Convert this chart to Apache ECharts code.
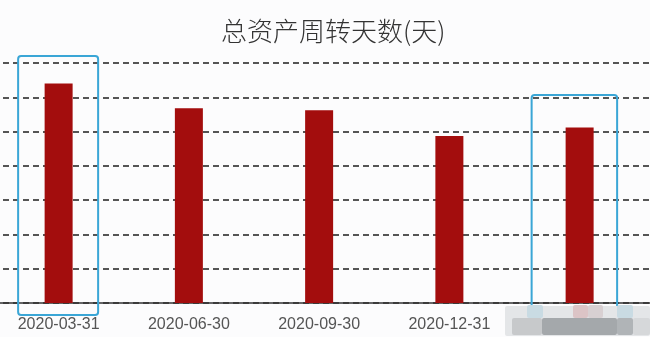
<!DOCTYPE html>
<html><head><meta charset="utf-8">
<script src="https://cdn.jsdelivr.net/npm/echarts@6/dist/echarts.min.js"></script>
<style>html,body{margin:0;padding:0;background:#fcfcfd;overflow:hidden;width:650px;height:337px;}
#c{position:absolute;left:-7px;top:0;width:659px;height:337px;}</style>
</head><body><div id="c"></div>
<script>
const titleText = '总资产周转天数(天)';
const categories = ['2020-03-31', '2020-06-30', '2020-09-30', '2020-12-31', '2021-03-31'];
const values = [64.0, 56.8, 56.2, 48.7, 51.2];
const highlighted = [0, 4];
const yMin = 0, yMax = 70, yStep = 10;

const OFF = 7; // container is shifted 7px left of the page
const chart = echarts.init(document.getElementById('c'), null, {renderer: 'canvas'});
chart.setOption({
  backgroundColor: '#fcfcfd',
  animation: false,
  title: {
    text: titleText, left: 216 + OFF, top: 13,
    textStyle: {fontFamily: 'Noto Sans CJK SC', fontWeight: 300, fontSize: 26, color: '#333'}
  },
  grid: [
    {left: 0.5, right: 7.25, top: 63, bottom: 34, containLabel: false},
    {left: 0, right: 0, top: 63, bottom: 34, containLabel: false}
  ],
  xAxis: [{
    type: 'category', data: categories, gridIndex: 0,
    axisLine: {show: false},
    axisTick: {show: false},
    axisLabel: {
      fontFamily: 'Liberation Sans', fontSize: 16, color: '#555', margin: 14,
      formatter: (v, i) => i === 4 ? '' : v
    }
  }, {
    type: 'value', gridIndex: 1, min: 0, max: 1,
    axisLine: {show: true, onZero: false, lineStyle: {color: '#333', width: 1.5}},
    axisTick: {show: false}, axisLabel: {show: false}, splitLine: {show: false}
  }],
  yAxis: [{
    type: 'value', gridIndex: 0, min: yMin, max: yMax, interval: yStep,
    axisLabel: {show: false}, axisLine: {show: false}, axisTick: {show: false},
    splitLine: {show: false}
  }, {
    type: 'value', gridIndex: 1, min: yMin, max: yMax, interval: yStep,
    axisLabel: {show: false}, axisLine: {show: false}, axisTick: {show: false},
    splitLine: {lineStyle: {type: [6, 4], color: '#1e1e1e', width: 1.5}}
  }],
  series: [{
    type: 'bar', data: values, barWidth: 28, xAxisIndex: 0, yAxisIndex: 0,
    itemStyle: {color: '#a30d0d'}, z: 3
  }]
});

// highlight boxes around selected categories
const boxSpec = [
  {dx: -40.5, w: 80, top: 56, bottom: 315},
  {dx: -48, w: 85.5, top: 95, bottom: 311}
];
const boxes = highlighted.map((idx, k) => {
  const cx = chart.convertToPixel({xAxisIndex: 0}, categories[idx]);
  const b = boxSpec[k];
  return {
    type: 'rect',
    shape: {x: cx + b.dx, y: b.top, width: b.w, height: b.bottom - b.top, r: 3},
    style: {fill: 'none', stroke: '#3aa6d6', lineWidth: 2},
    z: 10
  };
});

// mosaic watermark blob (page coordinates)
const mosaic = [
  {x: 505, y: 306, w: 145, h: 30, c: '#e4e6e8'},
  {x: 527, y: 305, w: 16, h: 13, c: '#c9dbe3'},
  {x: 573, y: 305, w: 15, h: 13, c: '#dcc4c6'},
  {x: 588, y: 305, w: 15, h: 13, c: '#d8d0d2'},
  {x: 617, y: 305, w: 16, h: 13, c: '#c9dbe3'},
  {x: 512, y: 318, w: 30, h: 17, c: '#c7c9cb'},
  {x: 542, y: 318, w: 75, h: 17, c: '#a4a8ab'},
  {x: 617, y: 318, w: 16, h: 17, c: '#b0b4b7'},
  {x: 633, y: 318, w: 17, h: 17, c: '#d6d8da'}
].map(m => ({
  type: 'rect', shape: {x: m.x + OFF, y: m.y, width: m.w, height: m.h, r: 2},
  style: {fill: m.c}, z: 20
}));

chart.setOption({graphic: boxes.concat(mosaic)});
</script></body></html>
